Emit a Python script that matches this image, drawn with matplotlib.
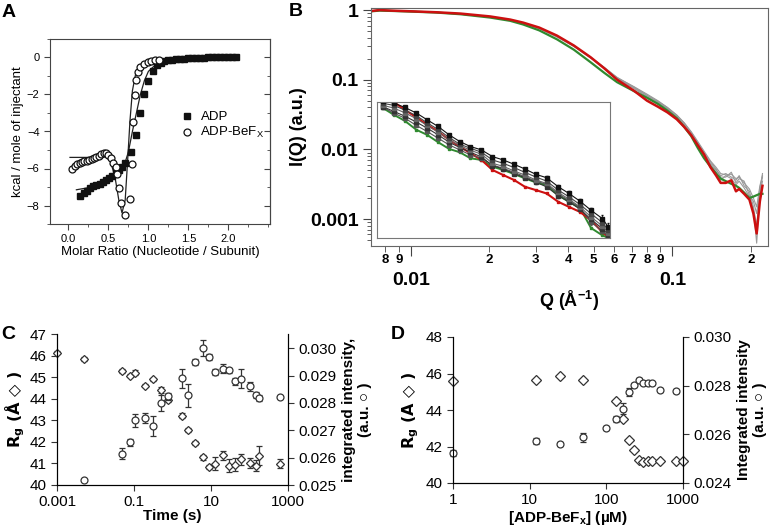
import numpy as np
import matplotlib
matplotlib.use('Agg')
import matplotlib.pyplot as plt
from matplotlib.ticker import FixedLocator, FixedFormatter, NullFormatter, LogLocator, MultipleLocator

plt.rcParams['font.family'] = ['Liberation Sans', 'DejaVu Sans']
plt.rcParams['mathtext.default'] = 'regular'

# ---------------- panel A : ITC
adp_x = [0.15, 0.19, 0.23, 0.27, 0.31, 0.35, 0.39, 0.43, 0.47, 0.51, 0.55, 0.59, 0.63, 0.67, 0.71,
         0.78, 0.84, 0.895, 0.95, 1.0, 1.055, 1.11, 1.16, 1.2, 1.25, 1.3, 1.35, 1.4, 1.45, 1.5, 1.55,
         1.6, 1.65, 1.7, 1.75, 1.8, 1.85, 1.9, 1.95, 2.0, 2.05, 2.1]
adp_y = [-7.46, -7.3, -7.2, -7.08, -6.97, -6.9, -6.82, -6.72, -6.62, -6.52, -6.4, -6.25, -6.07, -5.9, -5.7,
         -5.13, -4.18, -3.0, -1.98, -1.26, -0.72, -0.4, -0.28, -0.2, -0.15, -0.12, -0.1, -0.08, -0.06, -0.05, -0.04,
         -0.03, -0.02, -0.01, 0.0, 0.0, 0.01, 0.02, 0.02, 0.03, 0.03, 0.04]
bef_x = [0.05, 0.08, 0.11, 0.14, 0.17, 0.2, 0.23, 0.26, 0.29, 0.32, 0.35, 0.38, 0.41, 0.44, 0.47,
         0.5, 0.53, 0.56, 0.59, 0.61, 0.63, 0.66, 0.71, 0.77, 0.79, 0.81, 0.83, 0.85, 0.87, 0.9,
         0.95, 0.99, 1.03, 1.08, 1.13]
bef_y = [-6.0, -5.85, -5.75, -5.7, -5.65, -5.6, -5.58, -5.52, -5.47, -5.42, -5.37, -5.3, -5.24, -5.18, -5.15,
         -5.25, -5.45, -5.7, -5.9, -6.3, -7.06, -7.84, -8.5, -7.64, -5.78, -3.5, -2.05, -1.24, -0.76, -0.49,
         -0.34, -0.27, -0.2, -0.16, -0.13]
adp_fit_x = [0.1, 0.3, 0.5, 0.6, 0.7, 0.75, 0.8, 0.85, 0.9, 0.95, 1.0, 1.1, 1.3, 1.6, 2.1]
adp_fit_y = [-7.15, -7.0, -6.7, -6.4, -5.8, -5.1, -4.0, -3.0, -2.0, -1.25, -0.75, -0.35, -0.15, -0.05, 0.02]
bef_fit_x = [0.02, 0.3, 0.45, 0.52, 0.58, 0.63, 0.67, 0.71, 0.74, 0.77, 0.8, 0.84, 0.9, 1.0, 1.15]
bef_fit_y = [-5.4, -5.4, -5.33, -5.55, -6.4, -7.7, -8.4, -7.7, -5.6, -3.4, -1.8, -0.9, -0.45, -0.25, -0.14]

# ---------------- panel B : SAXS profiles
q = [0.0071, 0.0076, 0.0085, 0.01, 0.0125, 0.0155, 0.0201, 0.024, 0.0269, 0.031, 0.0362, 0.042,
     0.0487, 0.055, 0.0615, 0.0711, 0.08, 0.088, 0.0957, 0.104, 0.111, 0.118, 0.125, 0.132, 0.14,
     0.147, 0.153, 0.16, 0.168, 0.175, 0.18, 0.188, 0.197, 0.204, 0.21, 0.216, 0.221]
i_red = [0.97, 1.0, 0.98, 0.96, 0.93, 0.89, 0.81, 0.73, 0.66, 0.56, 0.43, 0.31,
         0.21, 0.145, 0.1, 0.07, 0.05, 0.041, 0.034, 0.027, 0.021, 0.016, 0.0115, 0.0085, 0.0055,
         0.0042, 0.0033, 0.0033, 0.0036, 0.0025, 0.0027, 0.0023, 0.0019, 0.0012, 0.00062, 0.0018, 0.003]
i_green = [0.96, 0.98, 0.97, 0.95, 0.92, 0.87, 0.78, 0.7, 0.62, 0.51, 0.38, 0.27,
           0.178, 0.125, 0.092, 0.069, 0.055, 0.045, 0.036, 0.028, 0.021, 0.0155, 0.0105, 0.0075, 0.0056,
           0.0045, 0.0038, 0.0035, 0.0032, 0.003, 0.0028, 0.0024, 0.002, 0.0021, 0.0022, 0.0023, 0.0023]
i_gray1 = [0.97, 0.99, 0.98, 0.96, 0.93, 0.88, 0.8, 0.72, 0.65, 0.55, 0.42, 0.31,
           0.21, 0.148, 0.105, 0.077, 0.059, 0.048, 0.039, 0.03, 0.023, 0.017, 0.012, 0.0088, 0.0062,
           0.005, 0.0042, 0.0045, 0.004, 0.0036, 0.0042, 0.003, 0.0025, 0.0015, 0.0008, 0.0025, 0.0045]
i_gray2 = [0.96, 0.99, 0.97, 0.95, 0.92, 0.87, 0.79, 0.71, 0.64, 0.54, 0.41, 0.3,
           0.205, 0.147, 0.107, 0.08, 0.062, 0.05, 0.04, 0.031, 0.024, 0.0175, 0.0125, 0.009, 0.0066,
           0.0052, 0.004, 0.004, 0.0047, 0.0033, 0.0038, 0.0035, 0.0022, 0.0018, 0.0012, 0.0028, 0.004]
i_gray3 = [0.97, 1.0, 0.98, 0.96, 0.93, 0.88, 0.8, 0.72, 0.645, 0.545, 0.415, 0.305,
           0.208, 0.146, 0.103, 0.075, 0.057, 0.047, 0.038, 0.029, 0.022, 0.0165, 0.0118, 0.0085, 0.006,
           0.0047, 0.0036, 0.0042, 0.0038, 0.0031, 0.0035, 0.0028, 0.0021, 0.0014, 0.00045, 0.0022, 0.0035]
i_gray4 = [0.96, 0.99, 0.98, 0.96, 0.93, 0.88, 0.8, 0.72, 0.65, 0.55, 0.42, 0.305,
           0.21, 0.15, 0.108, 0.079, 0.06, 0.049, 0.04, 0.031, 0.024, 0.018, 0.013, 0.0095, 0.0068,
           0.0055, 0.0045, 0.0043, 0.0044, 0.0038, 0.004, 0.0033, 0.0027, 0.002, 0.0015, 0.003, 0.0042]

# inset (arbitrary units along the zoomed profile)
ins_x = [0.40, 0.72, 1.05, 1.40, 1.72, 2.05, 2.38, 2.70, 3.02, 3.35, 3.68, 4.00, 4.33, 4.65, 4.98,
         5.30, 5.65, 5.97, 6.30, 6.63, 6.97, 7.15]
ins_err = [0.02, 0.02, 0.02, 0.02, 0.02, 0.02, 0.03, 0.03, 0.03, 0.03, 0.03, 0.04, 0.04, 0.04, 0.05,
           0.05, 0.06, 0.06, 0.07, 0.08, 0.10, 0.12]
ins_c1 = [4.08, 4.03, 3.90, 3.73, 3.53, 3.33, 3.08, 2.88, 2.73, 2.63, 2.43, 2.33, 2.20, 2.06, 1.90, 1.80, 1.53, 1.33, 1.10, 0.83, 0.58, 0.33]
ins_c2 = [4.02, 3.96, 3.82, 3.65, 3.44, 3.24, 3.00, 2.80, 2.68, 2.56, 2.33, 2.23, 2.10, 1.96, 1.82, 1.70, 1.43, 1.23, 1.00, 0.73, 0.46, 0.23]
ins_c3 = [3.96, 3.88, 3.74, 3.56, 3.36, 3.16, 2.93, 2.76, 2.62, 2.50, 2.23, 2.14, 2.00, 1.88, 1.73, 1.63, 1.36, 1.16, 0.93, 0.63, 0.36, 0.16]
ins_c4 = [3.92, 3.78, 3.64, 3.46, 3.28, 3.08, 2.86, 2.70, 2.56, 2.42, 2.16, 2.06, 1.92, 1.80, 1.66, 1.53, 1.26, 1.08, 0.86, 0.56, 0.28, 0.10]
ins_c5 = [3.90, 3.73, 3.58, 3.36, 3.18, 2.98, 2.78, 2.63, 2.48, 2.38, 2.18, 2.08, 1.96, 1.83, 1.70, 1.60, 1.32, 1.12, 0.90, 0.48, 0.20, 0.06]
ins_green = [3.88, 3.68, 3.50, 3.23, 3.08, 2.86, 2.66, 2.56, 2.38, 2.33, 2.13, 2.03, 1.91, 1.78, 1.66, 1.58, 1.28, 1.08, 0.90, 0.30, 0.08, 0.0]
ins_red = [4.14, 4.06, 3.83, 3.60, 3.38, 3.18, 2.93, 2.73, 2.53, 2.33, 2.03, 1.88, 1.73, 1.53, 1.43, 1.33, 1.08, 0.93, 0.78, 0.53, 0.18, 0.03]

# ---------------- panel C : time course
t_rg = [0.001, 0.00496, 0.0497, 0.0787, 0.104, 0.198, 0.307, 0.497, 0.787, 1.72, 2.56, 3.9, 6.06, 9.06,
        13, 20.2, 30, 43, 60.6, 102, 149, 179, 607]
rg_c = [46.14, 45.84, 45.29, 45.07, 45.21, 44.61, 44.9, 44.41, 43.95, 43.22, 42.56, 41.95, 41.28, 40.82,
        40.98, 41.38, 40.9, 40.94, 41.2, 41.02, 40.9, 41.36, 40.99]
rg_c_err = [0.05, 0.1, 0.1, 0.08, 0.1, 0.08, 0.08, 0.15, 0.1, 0.1, 0.1, 0.1, 0.12, 0.1,
            0.3, 0.2, 0.3, 0.3, 0.25, 0.25, 0.25, 0.45, 0.2]
t_int = [0.00496, 0.0497, 0.0787, 0.104, 0.198, 0.307, 0.497, 0.787, 1.72, 2.56, 3.9, 6.06, 9.06,
         13, 20.2, 30, 43, 60.6, 102, 149, 179, 607]
int_c = [0.02520, 0.02615, 0.02656, 0.02736, 0.02745, 0.02717, 0.02800, 0.02824, 0.02891, 0.02828, 0.02950,
         0.03001, 0.02968, 0.02914, 0.02925, 0.02919, 0.02879, 0.02889, 0.02861, 0.02830, 0.02818, 0.02823]
int_c_err = [0.00003, 0.0002, 0.00012, 0.00024, 0.00018, 0.00036, 0.0003, 0.00012, 0.00035, 0.00041, 0.00012,
             0.00028, 0.00012, 0.00012, 0.00016, 0.0001, 0.00012, 0.00036, 0.00016, 0.0001, 0.00012, 0.00004]

# ---------------- panel D : titration
conc_rg = [1, 12, 25, 50, 133, 167, 200, 233, 267, 300, 350, 400, 500, 800, 1000]
rg_d = [45.6, 45.67, 45.87, 45.67, 44.47, 43.49, 42.33, 41.82, 41.27, 41.15, 41.18, 41.2, 41.18, 41.2, 41.2]
conc_int = [1, 12, 25, 50, 100, 133, 167, 200, 233, 267, 300, 350, 400, 500, 800]
int_d = [0.02525, 0.02573, 0.02561, 0.02588, 0.02625, 0.02663, 0.02705, 0.02774, 0.02802, 0.02823,
         0.02813, 0.02809, 0.02809, 0.02782, 0.02779]
int_d_err = [0.00012, 0.00011, 0.00008, 0.00019, 0.00008, 0.00011, 0.00022, 0.00015, 0.00008, 0.00008,
             0.00006, 0.00006, 0.00006, 0.0001, 0.00008]

W, H = 774, 532
fig = plt.figure(figsize=(W / 100, H / 100), dpi=100)


def box(x0, y0, x1, y1):
    return [x0 / W, 1 - y1 / H, (x1 - x0) / W, (y1 - y0) / H]


# ---- A
axA = fig.add_axes(box(50, 39, 270, 224))
axA.plot(adp_fit_x, adp_fit_y, color='#222', lw=0.9)
axA.plot(bef_fit_x, bef_fit_y, color='#222', lw=0.9)
axA.plot(adp_x, adp_y, 's', color='#111', ms=4.2, label='ADP')
axA.plot(bef_x, bef_y, 'o', mfc='white', mec='#111', ms=5, mew=0.9, label='ADP-BeF$_X$')
axA.set_xlim(-0.23, 2.52)
axA.set_ylim(-9, 1)
axA.xaxis.set_major_locator(MultipleLocator(0.5))
axA.xaxis.set_minor_locator(MultipleLocator(0.25))
axA.yaxis.set_major_locator(MultipleLocator(2))
axA.yaxis.set_minor_locator(MultipleLocator(1))
axA.set_xticks([0, 0.5, 1.0, 1.5, 2.0], ['0.0', '0.5', '1.0', '1.5', '2.0'])
axA.tick_params(which='both', direction='out', labelsize=8, color='#444')
axA.tick_params(which='major', length=4)
axA.tick_params(which='minor', length=2.5)
secA = axA.secondary_yaxis('right')
secA.yaxis.set_major_locator(MultipleLocator(2))
secA.yaxis.set_minor_locator(MultipleLocator(1))
secA.tick_params(which='both', direction='in', labelright=False, color='#444')
secA.tick_params(which='major', length=4)
secA.tick_params(which='minor', length=2.5)
for s in axA.spines.values():
    s.set_color('#444')
secA.spines['right'].set_color('#444')
axA.set_xlabel('Molar Ratio (Nucleotide / Subunit)', fontsize=9.5, labelpad=1)
axA.set_ylabel('kcal / mole of injectant', fontsize=9.5, labelpad=2)
axA.legend(loc='upper left', bbox_to_anchor=(0.6, 0.61), frameon=False, fontsize=9.5,
           handlelength=0.8, handletextpad=0.6, labelspacing=0.15, borderpad=0, borderaxespad=0)

# ---- B
axB = fig.add_axes(box(371, 8, 768, 246))
for yy in [i_gray1, i_gray2, i_gray3, i_gray4]:
    axB.plot(q, yy, color='#9a9a9a', lw=0.8)
axB.plot(q, i_green, color='#2f8a2f', lw=1.6)
axB.plot(q, i_red, color='#cc1010', lw=1.8)
axB.set_xscale('log')
axB.set_yscale('log')
axB.set_xlim(0.00705, 0.232)
axB.set_ylim(4.1e-4, 1.07)
axB.xaxis.set_major_locator(FixedLocator([0.01, 0.1]))
axB.xaxis.set_major_formatter(FixedFormatter(['0.01', '0.1']))
minor_q = [0.008, 0.009, 0.02, 0.03, 0.04, 0.05, 0.06, 0.07, 0.08, 0.09, 0.2]
axB.xaxis.set_minor_locator(FixedLocator(minor_q))
axB.xaxis.set_minor_formatter(FixedFormatter(['8', '9', '2', '3', '4', '5', '6', '7', '8', '9', '2']))
axB.yaxis.set_major_locator(FixedLocator([0.001, 0.01, 0.1, 1]))
axB.yaxis.set_major_formatter(FixedFormatter(['0.001', '0.01', '0.1', '1']))
axB.yaxis.set_minor_locator(LogLocator(subs=np.arange(2, 10)))
axB.yaxis.set_minor_formatter(NullFormatter())
axB.tick_params(which='both', direction='out', color='#444')
axB.tick_params(axis='x', which='major', length=7, pad=12, labelsize=14)
axB.tick_params(axis='x', which='minor', length=4, pad=2, labelsize=9.5)
axB.tick_params(axis='y', which='major', length=6, pad=3, labelsize=14)
axB.tick_params(axis='y', which='minor', length=3)
for lab in axB.get_xticklabels(which='both') + axB.get_yticklabels():
    lab.set_fontweight('bold')
for s in axB.spines.values():
    s.set_color('#666')
axB.set_xlabel('Q (Å$^{-1}$)', fontsize=13, fontweight='bold', labelpad=0)
axB.set_ylabel('I(Q) (a.u.)', fontsize=13, fontweight='bold', labelpad=2)

axI = fig.add_axes(box(377, 102, 610, 238))
for yy, col in [(ins_c5, '#555'), (ins_c4, '#333'), (ins_c3, '#666'), (ins_c2, '#444'), (ins_c1, '#111')]:
    axI.errorbar(ins_x, yy, yerr=ins_err, color=col, lw=0.8, marker='s', ms=2.2, capsize=1, elinewidth=0.6)
axI.plot(ins_x, ins_green, color='#2f8a2f', lw=1.4, marker='s', ms=1.8)
axI.plot(ins_x, ins_red, color='#cc1010', lw=1.5, marker='s', ms=1.8)
axI.set_xlim(0.22, 7.2)
axI.set_ylim(0, 4.06)
axI.set_xticks([])
axI.set_yticks([])
for s in axI.spines.values():
    s.set_color('#777')

sym_font = ['DejaVu Sans']

# ---- C
axC = fig.add_axes(box(57, 334, 288, 485))
axC2 = axC.twinx()
axC.errorbar(t_rg, rg_c, yerr=rg_c_err, fmt='D', ms=4.5, mfc='white', mec='#333', mew=0.9,
             ecolor='#333', elinewidth=0.9, capsize=2, clip_on=False)
axC2.errorbar(t_int, int_c, yerr=int_c_err, fmt='o', ms=5, mfc='white', mec='#333', mew=0.9,
              ecolor='#333', elinewidth=0.9, capsize=2, clip_on=False)
axC.set_xscale('log')
axC.set_xlim(0.001, 1000)
axC.set_ylim(40, 47)
axC.set_yticks(range(40, 48))
axC.set_xticks([0.001, 0.1, 10, 1000], ['0.001', '0.1', '10', '1000'])
axC.xaxis.set_minor_locator(FixedLocator([]))
axC2.set_ylim(0.025, 0.030523)
axC2.set_yticks([0.025, 0.026, 0.027, 0.028, 0.029, 0.030], ['0.025', '0.026', '0.027', '0.028', '0.029', '0.030'])
for a in (axC, axC2):
    a.tick_params(direction='out', labelsize=11, length=4, color='#333')
    a.spines['top'].set_visible(False)
axC.set_xlabel('Time (s)', fontsize=11, fontweight='bold', labelpad=0)
axC.set_ylabel('R$_g$ (Å ◇ )', fontsize=11.5, fontweight='bold', labelpad=2, family=sym_font)
axC2.set_ylabel('integrated intensity,\n(a.u. ○ )', fontsize=11, fontweight='bold', labelpad=4)

# ---- D
axD = fig.add_axes(box(453, 337, 683, 483))
axD2 = axD.twinx()
axD.plot(conc_rg, rg_d, 'D', ms=5, mfc='white', mec='#333', mew=0.9, clip_on=False)
axD2.errorbar(conc_int, int_d, yerr=int_d_err, fmt='o', ms=5, mfc='white', mec='#333', mew=0.9,
              ecolor='#333', elinewidth=0.9, capsize=2, clip_on=False)
axD.set_xscale('log')
axD.set_xlim(1, 1000)
axD.set_ylim(40, 48)
axD.set_yticks([40, 42, 44, 46, 48])
axD.set_xticks([1, 10, 100, 1000], ['1', '10', '100', '1000'])
axD.xaxis.set_minor_locator(FixedLocator([]))
axD2.set_ylim(0.024, 0.030)
axD2.set_yticks([0.024, 0.026, 0.028, 0.030], ['0.024', '0.026', '0.028', '0.030'])
for a in (axD, axD2):
    a.tick_params(direction='out', labelsize=11, length=4, color='#333')
    a.spines['top'].set_visible(False)
axD.set_xlabel('[ADP-BeF$_x$] (µM)', fontsize=11, fontweight='bold', labelpad=1)
axD.set_ylabel('R$_g$ (A ◇ )', fontsize=11.5, fontweight='bold', labelpad=3, family=sym_font)
axD2.set_ylabel('Integrated intensity\n(a.u. ○ )', fontsize=11, fontweight='bold', labelpad=4)

# panel letters
for txt, x, y in [('A', 2, 4), ('B', 289, 3), ('C', 1, 326), ('D', 391, 326)]:
    fig.text(x / W, 1 - y / H, txt, fontsize=14, fontweight='bold', va='top', ha='left')

fig.savefig('out.png', dpi=100, facecolor='white')
